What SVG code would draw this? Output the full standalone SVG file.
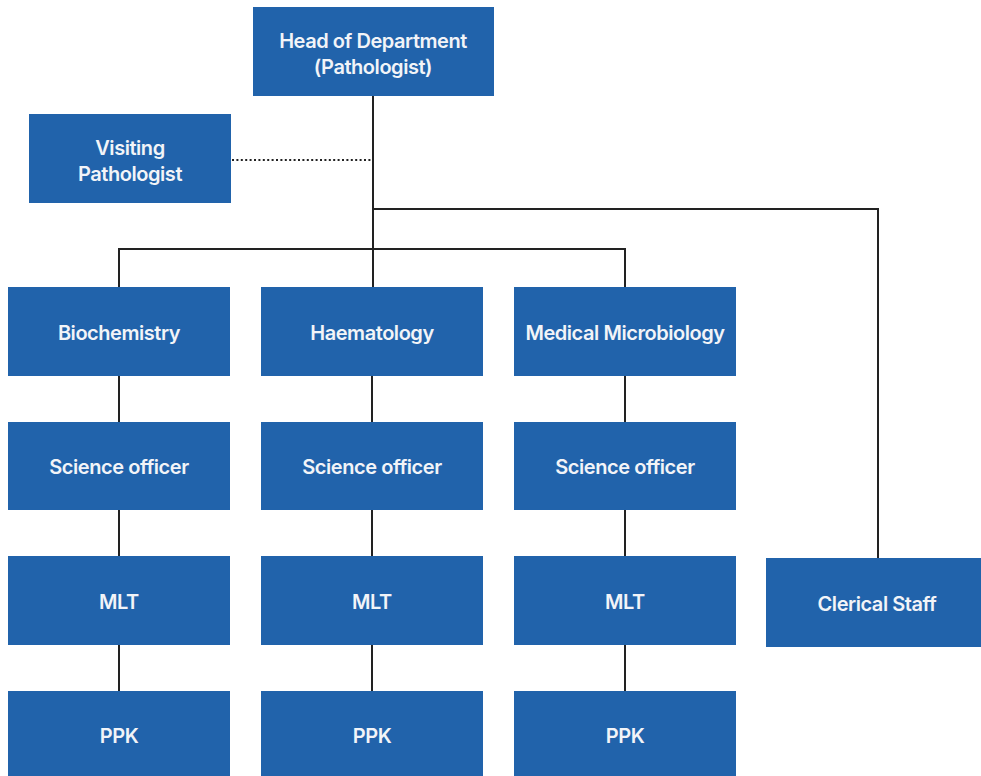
<svg xmlns="http://www.w3.org/2000/svg" width="981" height="776" viewBox="0 0 981 776">
<style>
.n{fill:#2163AB}
.t{fill:#F2F4F8;font-family:Inter,"Liberation Sans",sans-serif;font-weight:600;font-size:20px;text-anchor:middle;letter-spacing:-0.45px}
.c{stroke:#222;stroke-width:2;fill:none}
.d{stroke:#222;stroke-width:2;stroke-dasharray:2 2.4;fill:none}
</style>
<rect width="981" height="776" fill="#fff"/>
<g id="connectors">
<path class="c" d="M373 95V287M119 287V249H625V287M373 209H878V558"/>
<path class="d" d="M232 160H373"/>
<path class="c" d="M119 376V422M119 510V556M119 644V691M372 376V422M372 510V556M372 644V691M625 376V422M625 510V556M625 644V691"/>
</g>
<g id="head"><rect class="n" x="253" y="7" width="241" height="89"/><text class="t" x="373" y="48">Head of Department</text><text class="t" x="373" y="74">(Pathologist)</text></g>
<g id="visiting"><rect class="n" x="29" y="114" width="202" height="89"/><text class="t" x="130" y="155">Visiting</text><text class="t" x="130" y="181">Pathologist</text></g>
<g id="biochem"><rect class="n" x="8" y="287" width="222" height="89"/><text class="t" x="119" y="340">Biochemistry</text></g>
<g id="haem"><rect class="n" x="261" y="287" width="222" height="89"/><text class="t" x="372" y="340">Haematology</text></g>
<g id="micro"><rect class="n" x="514" y="287" width="222" height="89"/><text class="t" x="625" y="340">Medical Microbiology</text></g>
<g id="so1"><rect class="n" x="8" y="422" width="222" height="88"/><text class="t" x="119" y="474">Science officer</text></g>
<g id="so2"><rect class="n" x="261" y="422" width="222" height="88"/><text class="t" x="372" y="474">Science officer</text></g>
<g id="so3"><rect class="n" x="514" y="422" width="222" height="88"/><text class="t" x="625" y="474">Science officer</text></g>
<g id="mlt1"><rect class="n" x="8" y="556" width="222" height="89"/><text class="t" x="119" y="609">MLT</text></g>
<g id="mlt2"><rect class="n" x="261" y="556" width="222" height="89"/><text class="t" x="372" y="609">MLT</text></g>
<g id="mlt3"><rect class="n" x="514" y="556" width="222" height="89"/><text class="t" x="625" y="609">MLT</text></g>
<g id="clerical"><rect class="n" x="766" y="558" width="215" height="89"/><text class="t" x="877" y="611">Clerical Staff</text></g>
<g id="ppk1"><rect class="n" x="8" y="691" width="222" height="85"/><text class="t" x="119" y="743">PPK</text></g>
<g id="ppk2"><rect class="n" x="261" y="691" width="222" height="85"/><text class="t" x="372" y="743">PPK</text></g>
<g id="ppk3"><rect class="n" x="514" y="691" width="222" height="85"/><text class="t" x="625" y="743">PPK</text></g>
</svg>
